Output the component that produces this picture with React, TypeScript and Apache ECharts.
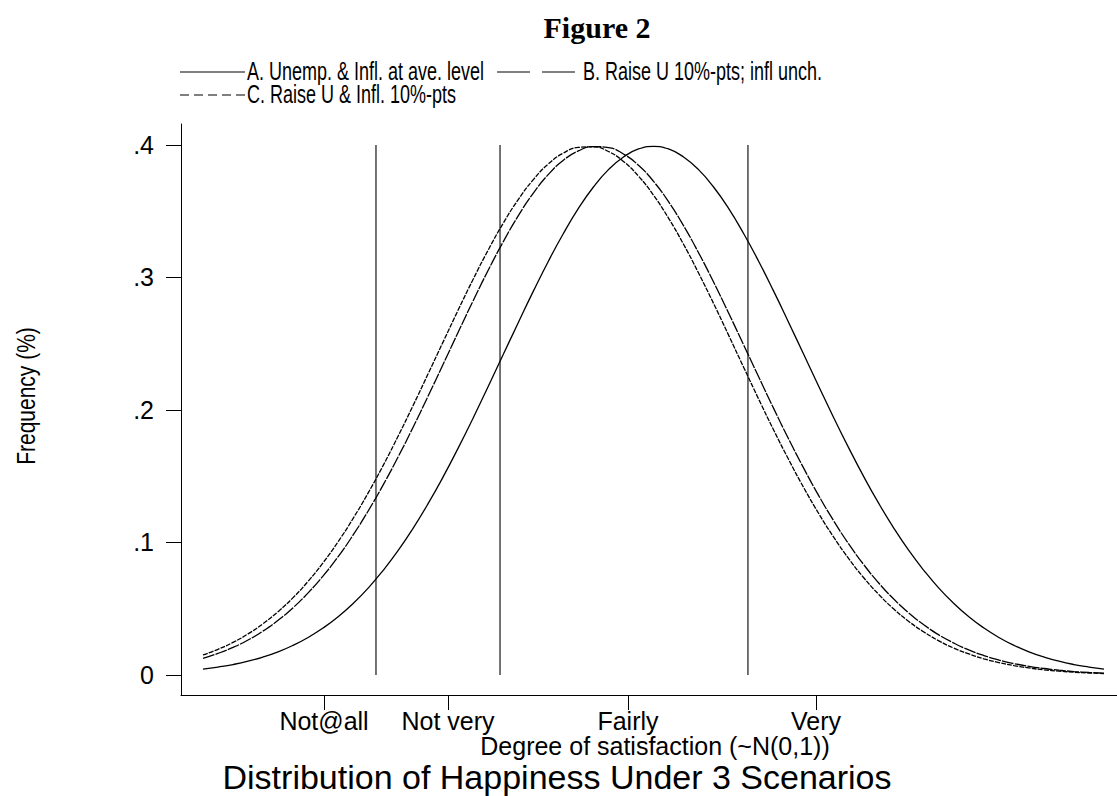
import React, { useEffect, useRef } from "react";
import * as echarts from "echarts";

// x grid of the plotted densities (~N(0,1) scale), -3 .. 3 by 0.1
const xGrid = [
  -3, -2.9, -2.8, -2.7, -2.6, -2.5, -2.4, -2.3, -2.2, -2.1, -2, -1.9, -1.8, -1.7, -1.6, -1.5, -1.4, -1.3, -1.2, -1.1,
  -1, -0.9, -0.8, -0.7, -0.6, -0.5, -0.4, -0.3, -0.2, -0.1, 0, 0.1, 0.2, 0.3, 0.4, 0.5, 0.6, 0.7, 0.8, 0.9, 1, 1.1,
  1.2, 1.3, 1.4, 1.5, 1.6, 1.7, 1.8, 1.9, 2, 2.1, 2.2, 2.3, 2.4, 2.5, 2.6, 2.7, 2.8, 2.9, 3,
];

// A. Unemp. & Infl. at ave. level
const seriesA = [
  0.0044, 0.006, 0.0079, 0.0104, 0.0136, 0.0175, 0.0224, 0.0283, 0.0355, 0.044, 0.054, 0.0656, 0.079, 0.094, 0.1109,
  0.1295, 0.1497, 0.1714, 0.1942, 0.2179, 0.242, 0.2661, 0.2897, 0.3123, 0.3332, 0.3521, 0.3683, 0.3814, 0.391, 0.397,
  0.3989, 0.397, 0.391, 0.3814, 0.3683, 0.3521, 0.3332, 0.3123, 0.2897, 0.2661, 0.242, 0.2179, 0.1942, 0.1714, 0.1497,
  0.1295, 0.1109, 0.094, 0.079, 0.0656, 0.054, 0.044, 0.0355, 0.0283, 0.0224, 0.0175, 0.0136, 0.0104, 0.0079, 0.006,
  0.0044,
];
// B. Raise U 10%-pts; infl unch.
const seriesB = [
  0.0126, 0.0163, 0.0208, 0.0264, 0.0332, 0.0413, 0.0508, 0.062, 0.0748, 0.0893, 0.1057, 0.1238, 0.1435, 0.1647, 0.1872,
  0.2107, 0.2347, 0.2589, 0.2827, 0.3056, 0.3271, 0.3467, 0.3637, 0.3778, 0.3885, 0.3956, 0.3988, 0.398, 0.3932, 0.3847,
  0.3726, 0.3572, 0.3391, 0.3187, 0.2966, 0.2732, 0.2492, 0.2251, 0.2012, 0.1781, 0.1561, 0.1354, 0.1163, 0.0989, 0.0833,
  0.0694, 0.0573, 0.0468, 0.0379, 0.0303, 0.0241, 0.0189, 0.0147, 0.0113, 0.0086, 0.0065, 0.0049, 0.0036, 0.0026, 0.0019,
  0.0014,
];
// C. Raise U & Infl. 10%-pts
const seriesC = [
  0.0151, 0.0194, 0.0246, 0.031, 0.0387, 0.0478, 0.0584, 0.0707, 0.0848, 0.1006, 0.1182, 0.1374, 0.1582, 0.1804, 0.2036,
  0.2275, 0.2516, 0.2756, 0.2989, 0.3209, 0.3411, 0.3589, 0.3739, 0.3857, 0.3939, 0.3982, 0.3986, 0.3951, 0.3876, 0.3765,
  0.3621, 0.3448, 0.3251, 0.3034, 0.2804, 0.2565, 0.2323, 0.2083, 0.1849, 0.1626, 0.1415, 0.1219, 0.104, 0.0878, 0.0734,
  0.0608, 0.0498, 0.0404, 0.0325, 0.0258, 0.0203, 0.0159, 0.0122, 0.0094, 0.0071, 0.0053, 0.0039, 0.0029, 0.0021, 0.0015,
  0.0011,
];

// vertical cut-point lines
const cutpoints = [-1.848, -1.022, 0.629];
const cutLow = 0;
const cutHigh = 0.4;

// axis ticks
const xTickValues = [-2.194, -1.368, -0.17, 1.082];
const xTickLabels = ["Not@all", "Not very", "Fairly", "Very"];
const yTickValues = [0, 0.1, 0.2, 0.3, 0.4];
const yTickLabels = ["0", ".1", ".2", ".3", ".4"];

const legendNames = [
  "A. Unemp. & Infl. at ave. level",
  "B. Raise U 10%-pts; infl unch.",
  "C. Raise U & Infl. 10%-pts",
];

const SANS = "'Liberation Sans', Arial, Helvetica, sans-serif";
const SERIF = "'Liberation Serif', 'Times New Roman', serif";

function lookup(values: number[], labels: string[], v: number) {
  for (let i = 0; i < values.length; i++) {
    if (Math.abs(values[i] - v) < 1e-6) return labels[i];
  }
  return "";
}

export default function App() {
  const ref = useRef<HTMLDivElement>(null);

  useEffect(() => {
    if (!ref.current) return;
    const chart = echarts.init(ref.current, undefined, { renderer: "svg" });

    const curve = (ys: number[]) => xGrid.map((x, i) => [x, ys[i]]);

    const curveSeries = [
      { name: legendNames[0], data: curve(seriesA), dash: "solid" as any },
      { name: legendNames[1], data: curve(seriesB), dash: [12, 1.2] },
      { name: legendNames[2], data: curve(seriesC), dash: [5, 1.2] },
    ].map((s) => ({
      type: "line",
      name: s.name,
      data: s.data,
      smooth: true,
      showSymbol: false,
      symbol: "none",
      silent: true,
      lineStyle: { color: "#000", width: 1.3, type: s.dash },
      z: 3,
    }));

    const cutSeries = cutpoints.map((c) => ({
      type: "line",
      data: [
        [c, cutLow],
        [c, cutHigh],
      ],
      showSymbol: false,
      symbol: "none",
      silent: true,
      lineStyle: { color: "#000", width: 1.1 },
      z: 2,
    }));

    const legendText = (text: string, x: number, y: number) => ({
      type: "text",
      x,
      y,
      scaleX: 0.72,
      style: { text, font: `25px ${SANS}`, fill: "#000", align: "left", verticalAlign: "middle" },
    });

    chart.setOption({
      animation: false,
      backgroundColor: "#fff",
      grid: { left: 181, top: 124, width: 936, height: 571, containLabel: false },
      xAxis: {
        type: "value",
        min: -3.1464,
        max: 3.0865,
        axisLine: { show: true, onZero: false, lineStyle: { color: "#000", width: 1 } },
        axisTick: {
          show: true,
          customValues: xTickValues,
          length: 15,
          lineStyle: { color: "#000", width: 1 },
        },
        axisLabel: {
          customValues: xTickValues,
          formatter: (v: number) => lookup(xTickValues, xTickLabels, v),
          fontSize: 25,
          fontFamily: SANS,
          color: "#000",
          margin: 13,
        },
        splitLine: { show: false },
      },
      yAxis: {
        type: "value",
        min: -0.0151,
        max: 0.41585,
        axisLine: { show: true, onZero: false, lineStyle: { color: "#000", width: 1 } },
        axisTick: {
          show: true,
          customValues: yTickValues,
          length: 15,
          lineStyle: { color: "#000", width: 1 },
        },
        axisLabel: {
          customValues: yTickValues,
          formatter: (v: number) => lookup(yTickValues, yTickLabels, v),
          fontSize: 25,
          fontFamily: SANS,
          color: "#000",
          margin: 27,
        },
        splitLine: { show: false },
      },
      graphic: [
        {
          type: "text",
          x: 597,
          y: 27,
          style: {
            text: "Figure 2",
            font: `bold 30px ${SERIF}`,
            fill: "#000",
            align: "center",
            verticalAlign: "middle",
          },
        },
        // legend row 1: A
        { type: "line", shape: { x1: 180, y1: 72, x2: 245, y2: 72 }, style: { stroke: "#000", lineWidth: 1.2 } },
        legendText(legendNames[0], 247, 71),
        // legend row 1: B
        {
          type: "line",
          shape: { x1: 497, y1: 72, x2: 575, y2: 72 },
          style: { stroke: "#000", lineWidth: 1.2, lineDash: [33, 12] },
        },
        legendText(legendNames[1], 583, 71),
        // legend row 2: C
        {
          type: "line",
          shape: { x1: 180, y1: 95, x2: 245, y2: 95 },
          style: { stroke: "#000", lineWidth: 1.2, lineDash: [9, 5] },
        },
        legendText(legendNames[2], 247, 94),
        // y axis title
        {
          type: "text",
          x: 26,
          y: 396,
          rotation: Math.PI / 2,
          scaleX: 0.84,
          style: {
            text: "Frequency (%)",
            font: `25px ${SANS}`,
            fill: "#000",
            align: "center",
            verticalAlign: "middle",
          },
        },
        // x axis title
        {
          type: "text",
          x: 655,
          y: 746,
          style: {
            text: "Degree of satisfaction (~N(0,1))",
            font: `25px ${SANS}`,
            fill: "#000",
            align: "center",
            verticalAlign: "middle",
          },
        },
        // bottom caption
        {
          type: "text",
          x: 557,
          y: 777,
          style: {
            text: "Distribution of Happiness Under 3 Scenarios",
            font: `34px ${SANS}`,
            fill: "#000",
            align: "center",
            verticalAlign: "middle",
          },
        },
      ],
      series: [...cutSeries, ...curveSeries],
    });

    return () => chart.dispose();
  }, []);

  return (
    <div
      ref={ref}
      style={{ position: "fixed", left: 0, top: 0, width: 1117, height: 796, background: "#fff" }}
    />
  );
}
